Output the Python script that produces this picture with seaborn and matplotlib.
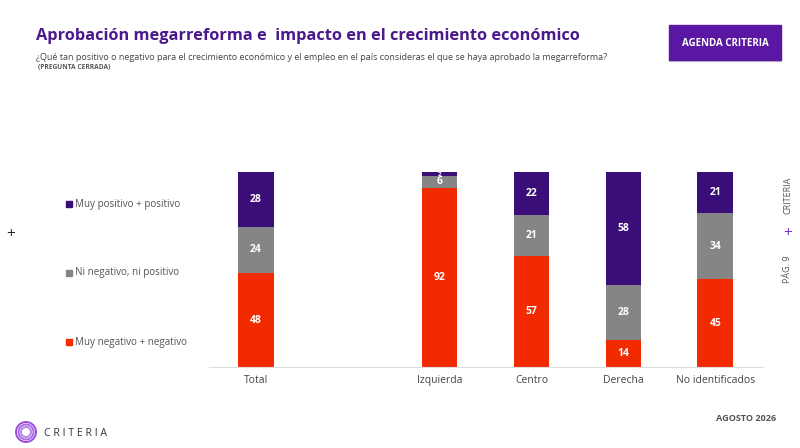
import matplotlib
matplotlib.use("Agg")
import matplotlib.pyplot as plt
import matplotlib.patches as mpatches
import seaborn as sns
import pandas as pd
import numpy as np

categories = ["Total", "Izquierda", "Centro", "Derecha", "No identificados"]
order = ["Total", " ", "Izquierda", "Centro", "Derecha", "No identificados"]
negativo = [48, 92, 57, 14, 45]
neutral = [24, 6, 21, 28, 34]
positivo = [28, 2, 22, 58, 21]
series_names = ["Muy positivo + positivo", "Ni negativo, ni positivo", "Muy negativo + negativo"]

C_POS = "#3a0d78"
C_NEU = "#858585"
C_NEG = "#f22a00"
C_TITLE = "#4a1a8c"

sns.set_theme(style="white")
plt.rcParams["font.family"] = ["Open Sans", "DejaVu Sans"]

df = pd.DataFrame({
    "cat": categories,
    "neg": negativo,
    "neu": neutral,
    "pos": positivo,
})
df["cum_neu"] = df["neg"] + df["neu"]
df["cum_pos"] = df["cum_neu"] + df["pos"]

fig = plt.figure(figsize=(8, 4.48), dpi=100)
ax = fig.add_axes([0.261, 0.181, 0.693, 0.435])

sns.barplot(data=df, x="cat", y="cum_pos", order=order, color=C_POS, width=0.39,
            saturation=1, ax=ax, linewidth=0)
sns.barplot(data=df, x="cat", y="cum_neu", order=order, color=C_NEU, width=0.39,
            saturation=1, ax=ax, linewidth=0)
sns.barplot(data=df, x="cat", y="neg", order=order, color=C_NEG, width=0.39,
            saturation=1, ax=ax, linewidth=0)

ax.set_ylim(0, 100)
ax.set_xlim(-0.51, 5.52)
ax.set_xlabel("")
ax.set_ylabel("")
ax.set_yticks([])
for s in ["top", "right", "left"]:
    ax.spines[s].set_visible(False)
ax.spines["bottom"].set_color("#dddddd")
ax.spines["bottom"].set_linewidth(0.8)
ax.tick_params(axis="x", length=0, labelsize=7.5, labelcolor="#444444", pad=6)

# value labels from bar patches
def centers(container):
    return [p.get_x() + p.get_width() / 2 for p in container.patches if p.get_height() > 0]

xs = centers(ax.containers[2])
for x, n, u, p in zip(xs, negativo, neutral, positivo):
    lo = 0
    for val in (n, u, p):
        if val >= 5:
            ax.text(x, lo + val / 2, str(val), ha="center", va="center", color="white",
                    fontsize=7.5, fontweight="bold")
        else:
            ax.text(x, lo + val, str(val), ha="center", va="top", color="white",
                    fontsize=4.5, fontweight="bold")
        lo += val

# legend-like labels on left
leg_y = [204, 273, 342]
leg_c = [C_POS, C_NEU, C_NEG]
for name, yy, cc in zip(series_names, leg_y, leg_c):
    fig.patches.append(mpatches.Rectangle((66 / 800, 1 - (yy + 3) / 448), 6 / 800, 6 / 448,
                                          transform=fig.transFigure, color=cc))
    fig.text(75 / 800, 1 - yy / 448, name, ha="left", va="center", fontsize=7.1, color="#555555")

# title and subtitle
fig.text(36 / 800, 1 - 36 / 448, "Aprobación megarreforma e  impacto en el crecimiento económico",
         fontsize=11.8, fontweight="bold", color=C_TITLE, ha="left", va="center")
fig.text(36 / 800, 1 - 58 / 448,
         "¿Qué tan positivo o negativo para el crecimiento económico y el empleo en el país consideras el que se haya aprobado la megarreforma?",
         fontsize=6.45, color="#444444", ha="left", va="center")
fig.text(38 / 800, 1 - 68 / 448, "(PREGUNTA CERRADA)", fontsize=4.8, fontweight="bold",
         color="#555555", ha="left", va="center")

# Agenda box
fig.patches.append(mpatches.Rectangle((669 / 800, 1 - 61 / 448), 112 / 800, 2 / 448,
                                      transform=fig.transFigure, color="#cccccc"))
fig.patches.append(mpatches.Rectangle((669 / 800, 1 - 60 / 448), 112 / 800, 35 / 448,
                                      transform=fig.transFigure, color="#5a17a3"))
fig.text(725 / 800, 1 - 43 / 448, "AGENDA CRITERIA", fontsize=7, fontweight="bold",
         color="white", ha="center", va="center")

# crosses and side text
fig.text(11 / 800, 1 - 234 / 448, "+", fontsize=11, color="#222222", ha="center", va="center")
fig.text(788 / 800, 1 - 233 / 448, "+", fontsize=11, color="#7b2cc9", ha="center", va="center")
fig.text(788 / 800, 1 - 195 / 448, "CRITERIA", fontsize=6.5, color="#555555", rotation=90,
         ha="center", va="center")
fig.text(788 / 800, 1 - 269 / 448, "PÁG. 9", fontsize=6.5, color="#555555", rotation=90,
         ha="center", va="center")

# footer
fig.text(746 / 800, 1 - 418 / 448, "AGOSTO 2026", fontsize=6.6, fontweight="bold",
         color="#555555", ha="center", va="center")
for r, a in zip([10, 7.5, 5], [1.0, 0.85, 0.7]):
    fig.patches.append(mpatches.Ellipse((26 / 800, 1 - 432 / 448), 2 * r / 800, 2 * r / 448,
                                        transform=fig.transFigure, fill=False,
                                        edgecolor="#9b4de0", linewidth=1.4, alpha=a))
fig.text(44 / 800, 1 - 433 / 448, "C R I T E R I A", fontsize=7.6, color="#333333",
         ha="left", va="center")

fig.savefig("out.png", dpi=100)
